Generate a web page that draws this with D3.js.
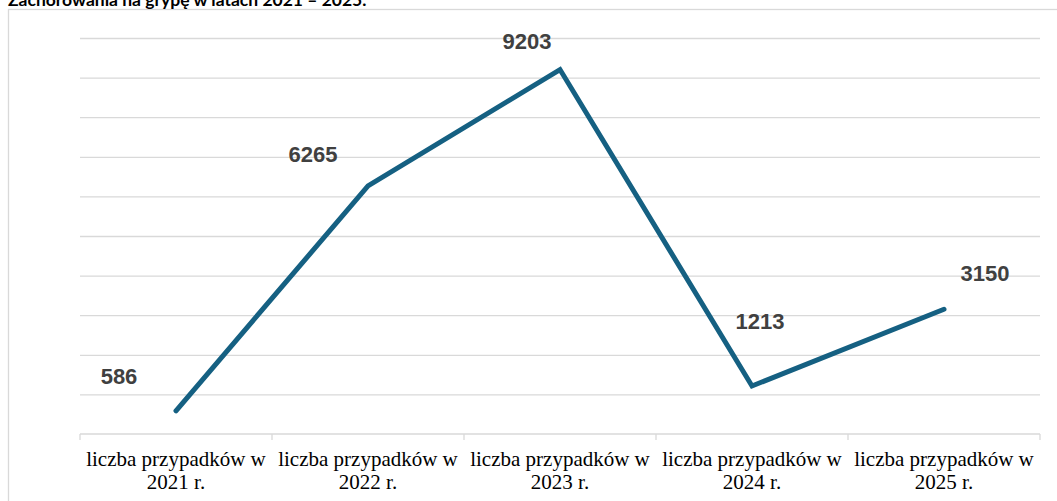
<!DOCTYPE html>
<html>
<head>
<meta charset="utf-8">
<script src="https://cdn.jsdelivr.net/npm/d3@7"></script>
<style>
  body { margin: 0; background: #fff; }
  svg { display: block; }
</style>
</head>
<body>
<div id="chart"></div>
<script>
// data
const categories = [
  "liczba przypadków w 2021 r.",
  "liczba przypadków w 2022 r.",
  "liczba przypadków w 2023 r.",
  "liczba przypadków w 2024 r.",
  "liczba przypadków w 2025 r."
];
const cases = [586, 6265, 9203, 1213, 3150];
const gridTicks = [1000, 2000, 3000, 4000, 5000, 6000, 7000, 8000, 9000, 10000];
const title = "Zachorowania na grypę w latach 2021 – 2025.";

// label placement (moved by hand in the original)
const labelDx = [-57, -55, -33, 8, 41];
const labelDy = [-27, -24, -21, -57, -28];

const W = 1057, H = 501;
const margin = {top: 38, right: 17, bottom: 67, left: 80};

const svg = d3.select("#chart").append("svg")
  .attr("width", W)
  .attr("height", H);

// chart frame
svg.append("rect")
  .attr("x", 8.5).attr("y", 9.5)
  .attr("width", W + 10).attr("height", H + 10)
  .attr("fill", "none")
  .attr("stroke", "#d9d9d9")
  .attr("stroke-width", 1.3);

// title sits above the frame and is clipped by the page top, like the original
svg.append("text")
  .attr("x", 8).attr("y", 6)
  .attr("font-family", "Lato, 'Open Sans', sans-serif")
  .attr("font-weight", "bold")
  .attr("font-size", 17.5)
  .attr("fill", "#000")
  .text(title);

const x = d3.scaleBand()
  .domain(categories)
  .range([margin.left, W - margin.right]);

const y = d3.scaleLinear()
  .domain([0, 10000])
  .range([H - margin.bottom, margin.top]);

// gridlines
const grid = svg.append("g")
  .attr("transform", `translate(${margin.left},0)`)
  .call(d3.axisLeft(y).tickValues(gridTicks).tickSize(-(W - margin.right - margin.left)).tickFormat(""));
grid.select(".domain").remove();
grid.selectAll(".tick line")
  .attr("stroke", "#d9d9d9")
  .attr("stroke-width", 1.3);

// category axis
const axisY = y(0);
svg.append("line")
  .attr("x1", margin.left).attr("x2", W - margin.right)
  .attr("y1", axisY).attr("y2", axisY)
  .attr("stroke", "#d9d9d9")
  .attr("stroke-width", 1.3);

const edges = categories.map(c => x(c)).concat([x(categories[categories.length - 1]) + x.bandwidth()]);
svg.selectAll(".xtick")
  .data(edges)
  .enter()
  .append("line")
  .attr("class", "xtick")
  .attr("x1", d => d).attr("x2", d => d)
  .attr("y1", axisY).attr("y2", axisY + 6)
  .attr("stroke", "#d9d9d9")
  .attr("stroke-width", 1.3);

const catLabels = svg.selectAll(".cat")
  .data(categories)
  .enter()
  .append("text")
  .attr("class", "cat")
  .attr("text-anchor", "middle")
  .attr("font-family", "'Liberation Serif', 'Times New Roman', serif")
  .attr("font-size", 21)
  .attr("fill", "#000");

catLabels.each(function(d) {
  const cut = d.lastIndexOf(" w ") + 2;
  const t = d3.select(this);
  const cx = x(d) + x.bandwidth() / 2;
  t.append("tspan").attr("x", cx).attr("y", 466).text(d.slice(0, cut));
  t.append("tspan").attr("x", cx).attr("y", 489).text(d.slice(cut + 1));
});

// line
const line = d3.line()
  .x((d, i) => x(categories[i]) + x.bandwidth() / 2)
  .y(d => y(d));

svg.append("path")
  .datum(cases)
  .attr("d", line)
  .attr("fill", "none")
  .attr("stroke", "#156082")
  .attr("stroke-width", 5)
  .attr("stroke-linecap", "round")
  .attr("stroke-linejoin", "miter");

// value labels
svg.selectAll(".val")
  .data(cases)
  .enter()
  .append("text")
  .attr("class", "val")
  .attr("text-anchor", "middle")
  .attr("x", (d, i) => x(categories[i]) + x.bandwidth() / 2 + labelDx[i])
  .attr("y", (d, i) => y(d) + labelDy[i])
  .attr("font-family", "'Liberation Sans', Arial, sans-serif")
  .attr("font-weight", "bold")
  .attr("font-size", 22)
  .attr("fill", "#404040")
  .text(d => d);
</script>
</body>
</html>
